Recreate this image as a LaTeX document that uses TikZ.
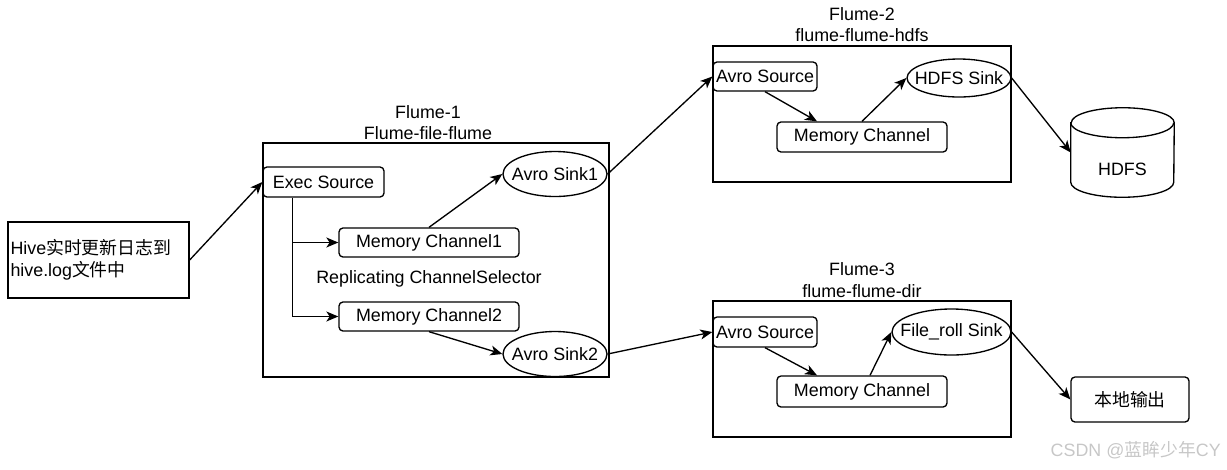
\documentclass[tikz,border=0pt]{standalone}
\usepackage{fontspec}
\setmainfont{Liberation Sans}
\newfontfamily\cjk{Noto Sans CJK SC}
\usetikzlibrary{arrows.meta,calc,shapes.geometric}
\begin{document}
\begin{tikzpicture}[x=0.75pt,y=-0.75pt,
  arr/.style={-{Stealth[length=9pt,width=7.5pt,inset=2.5pt]}, line width=1pt},
  txt/.style={font=\fontsize{13.4}{16}\selectfont, inner sep=0pt},
  rbox/.style={txt, draw, line width=1pt, rounded corners=3pt},
  sbox/.style={txt, draw, line width=1pt},
  ell/.style={draw, ellipse, inner sep=0pt, line width=1pt}]
\useasboundingbox (0,0) rectangle (1227,469);

% source box
\node[sbox, minimum width=135.75pt, minimum height=57pt, text width=132pt, align=left,
      font=\fontsize{13.4}{16.5}\selectfont] (hive) at (98.5,260)
      {Hive{\cjk 实时更新日志到}\\hive.log{\cjk 文件中}};

% Flume-1
\node[sbox, minimum width=259.5pt, minimum height=175.5pt] (f1) at (436,260) {};
\node[txt] (f1t1) at (428,112) {Flume-1};
\node[txt] (f1t2) at (428,133) {Flume-file-flume};
\node[rbox, minimum width=90.75pt, minimum height=22.5pt] (exec) at (323.5,182) {Exec Source};
\node[rbox, minimum width=135pt, minimum height=21.75pt] (mc1) at (429,242.5) {Memory Channel1};
\node[rbox, minimum width=135pt, minimum height=21.75pt] (mc2) at (429,316.5) {Memory Channel2};
\node[txt] (rep) at (429,279) {Replicating ChannelSelector};
\node[ell, minimum width=78pt, minimum height=33.75pt] (s1) at (555,174) {};
\node[txt] (s1t) at (s1) {Avro Sink1};
\node[ell, minimum width=78pt, minimum height=33.75pt] (s2) at (555,354) {};
\node[txt] (s2t) at (s2) {Avro Sink2};
\coordinate (j) at ($(exec.south west)+(30,0)$);

% Flume-2
\node[sbox, minimum width=223.5pt, minimum height=102pt] (f2) at (862,114) {};
\node[txt] (f2t1) at (862,14) {Flume-2};
\node[txt] (f2t2) at (862,35) {flume-flume-hdfs};
\node[rbox, minimum width=78pt, minimum height=21.75pt] (a2) at (765,76.5) {Avro Source};
\node[rbox, minimum width=127.5pt, minimum height=22.5pt] (m2) at (862,137) {Memory Channel};
\node[ell, minimum width=78pt, minimum height=28.5pt] (hs) at (959,78) {};
\node[txt] (hst) at (hs) {HDFS Sink};

% HDFS cylinder
\node[minimum width=77.25pt, minimum height=66.75pt, inner sep=0pt] (db) at (1122.5,152.5) {};
\draw[line width=1pt, fill=white] ([yshift=-11.25pt]db.north west) -- ([yshift=11.25pt]db.south west)
  arc[start angle=180, end angle=360, x radius=38.625pt, y radius=11.25pt]
  -- ([yshift=-11.25pt]db.north east)
  arc[start angle=0, end angle=180, x radius=38.625pt, y radius=11.25pt] -- cycle;
\draw[line width=1pt] ([yshift=-11.25pt]db.north west)
  arc[start angle=180, end angle=360, x radius=38.625pt, y radius=11.25pt];
\node[txt] (dbt) at ($(db.center)+(0,17)$) {HDFS};

% Flume-3
\node[sbox, minimum width=223.5pt, minimum height=102pt] (f3) at (862,369) {};
\node[txt] (f3t1) at (862,269) {Flume-3};
\node[txt] (f3t2) at (862,291) {flume-flume-dir};
\node[rbox, minimum width=78pt, minimum height=22.5pt] (a3) at (765,332) {Avro Source};
\node[rbox, minimum width=127.5pt, minimum height=23.25pt] (m3) at (862,391.5) {Memory Channel};
\node[ell, minimum width=89.25pt, minimum height=34.5pt] (fr) at (951.5,332) {};
\node[txt] (frt) at (fr) {File\_roll Sink};
\node[rbox, minimum width=88.5pt, minimum height=33.75pt] (out) at (1130,399.5) {\cjk 本地输出};

% watermark
\node[txt, text=black!22, anchor=east] (wm) at (1221,450) {CSDN @{\cjk 蓝眸少年}CY};

% connectors
\draw[arr] (hive.east) -- (exec.west);
\draw[arr] (j) |- (mc1.west);
\draw[arr] (j) |- (mc2.west);
\draw[arr] (mc1.north) -- (s1.west);
\draw[arr] (mc2.south) -- (s2.west);
\draw[arr] (s1.east) -- (a2.west);
\draw[arr] (s2.east) -- (a3.west);
\draw[arr] (a2.south) -- ($(m2.north)+(-45,0)$);
\draw[arr] (m2.north) -- (hs.west);
\draw[arr] (hs.east) -- (db.west);
\draw[arr] (a3.south) -- ($(m3.north)+(-45,0)$);
\draw[arr] ($(m3.north)+(8,0)$) -- (fr.west);
\draw[arr] (fr.east) -- (out.west);
\end{tikzpicture}
\end{document}
